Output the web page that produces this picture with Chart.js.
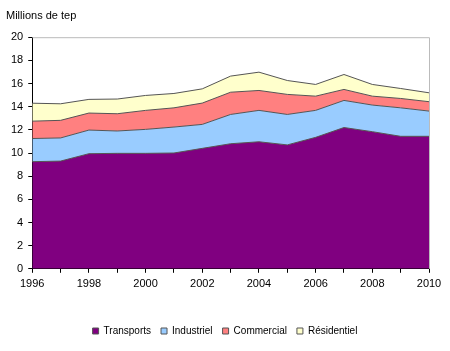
<!DOCTYPE html>
<html>
<head>
<meta charset="utf-8">
<script src="https://cdn.jsdelivr.net/npm/chart.js@4"></script>
<style>
  html, body { margin: 0; padding: 0; background: #fff; }
  #wrap { width: 450px; height: 351px; }
</style>
</head>
<body>
<div id="wrap"><canvas id="energyChart" width="450" height="351"></canvas></div>
<script>
// Years and series (millions de tep)
const years = ['1996', '1997', '1998', '1999', '2000', '2001', '2002', '2003',
               '2004', '2005', '2006', '2007', '2008', '2009', '2010'];
const transports  = [9.25, 9.3, 9.94, 9.97, 9.97, 10.0, 10.4, 10.8, 10.97, 10.7, 11.35, 12.2, 11.84, 11.44, 11.44];
const industriel  = [2.0, 2.0, 2.04, 1.93, 2.07, 2.24, 2.07, 2.53, 2.71, 2.63, 2.33, 2.34, 2.3, 2.46, 2.18];
const commercial  = [1.5, 1.52, 1.47, 1.49, 1.64, 1.66, 1.84, 1.92, 1.72, 1.73, 1.23, 0.95, 0.77, 0.81, 0.81];
const residentiel = [1.55, 1.43, 1.18, 1.27, 1.29, 1.24, 1.23, 1.39, 1.58, 1.2, 1.01, 1.29, 1.01, 0.86, 0.77];
const yTicks = [0, 2, 4, 6, 8, 10, 12, 14, 16, 18, 20];

const font = { family: 'Arial, "Liberation Sans", sans-serif', size: 11 };

// grey frame on top and right of the plot area
const frame = {
    id: 'frame',
    afterDatasetsDraw(chart) {
        const { ctx, chartArea: a } = chart;
        ctx.save();
        ctx.strokeStyle = '#bbbbbb';
        ctx.lineWidth = 1;
        ctx.beginPath();
        ctx.moveTo(a.left, a.top + 0.5);
        ctx.lineTo(a.right + 0.5, a.top + 0.5);
        ctx.lineTo(a.right + 0.5, a.bottom);
        ctx.stroke();
        ctx.restore();
    }
};

const mkSet = (label, data, color, fill) => ({
    label: label,
    data: data,
    backgroundColor: color,
    borderColor: '#555555',
    borderWidth: 1,
    pointRadius: 0,
    tension: 0,
    fill: fill
});

new Chart(document.getElementById('energyChart').getContext('2d'), {
    type: 'line',
    data: {
        labels: years,
        datasets: [
            mkSet('Transports', transports, '#800080', 'origin'),
            mkSet('Industriel', industriel, '#99ccff', '-1'),
            mkSet('Commercial', commercial, '#ff8080', '-1'),
            mkSet('Résidentiel', residentiel, '#ffffcc', '-1')
        ]
    },
    options: {
        responsive: false,
        animation: false,
        layout: { padding: { left: 6, right: 6, top: 5, bottom: 5 } },
        plugins: {
            title: {
                display: true,
                text: 'Millions de tep',
                align: 'start',
                color: '#000',
                font: { family: font.family, size: 11, weight: 'normal' },
                padding: { top: 4, bottom: 15 }
            },
            legend: {
                position: 'bottom',
                labels: {
                    color: '#000',
                    font: { family: font.family, size: 10 },
                    boxWidth: 6,
                    boxHeight: 6,
                    padding: 10
                }
            },
            tooltip: { enabled: false }
        },
        scales: {
            x: {
                offset: false,
                grid: { drawOnChartArea: false, color: '#000', tickLength: 4 },
                border: { color: '#000' },
                afterFit: function(axis) {
                    axis.height += 20; // room between year labels and legend
                },
                ticks: {
                    color: '#000',
                    font: font,
                    maxRotation: 0,
                    autoSkip: false,
                    padding: 5,
                    callback: function(value, index) {
                        return index % 2 === 0 ? years[index] : '';
                    }
                }
            },
            y: {
                stacked: true,
                min: 0,
                max: 20,
                afterBuildTicks: function(axis) {
                    axis.ticks = yTicks.map(v => ({ value: v }));
                },
                grid: { drawOnChartArea: false, color: '#000', tickLength: 4 },
                border: { color: '#000' },
                ticks: { color: '#000', font: font, padding: 5 }
            },
            // empty spacer on the right so the plot stops short of the edge
            spacer: {
                position: 'right',
                grid: { display: false },
                border: { display: false },
                ticks: { display: false },
                afterFit: function(axis) {
                    axis.width = 15;
                }
            }
        }
    },
    plugins: [frame]
});
</script>
</body>
</html>
